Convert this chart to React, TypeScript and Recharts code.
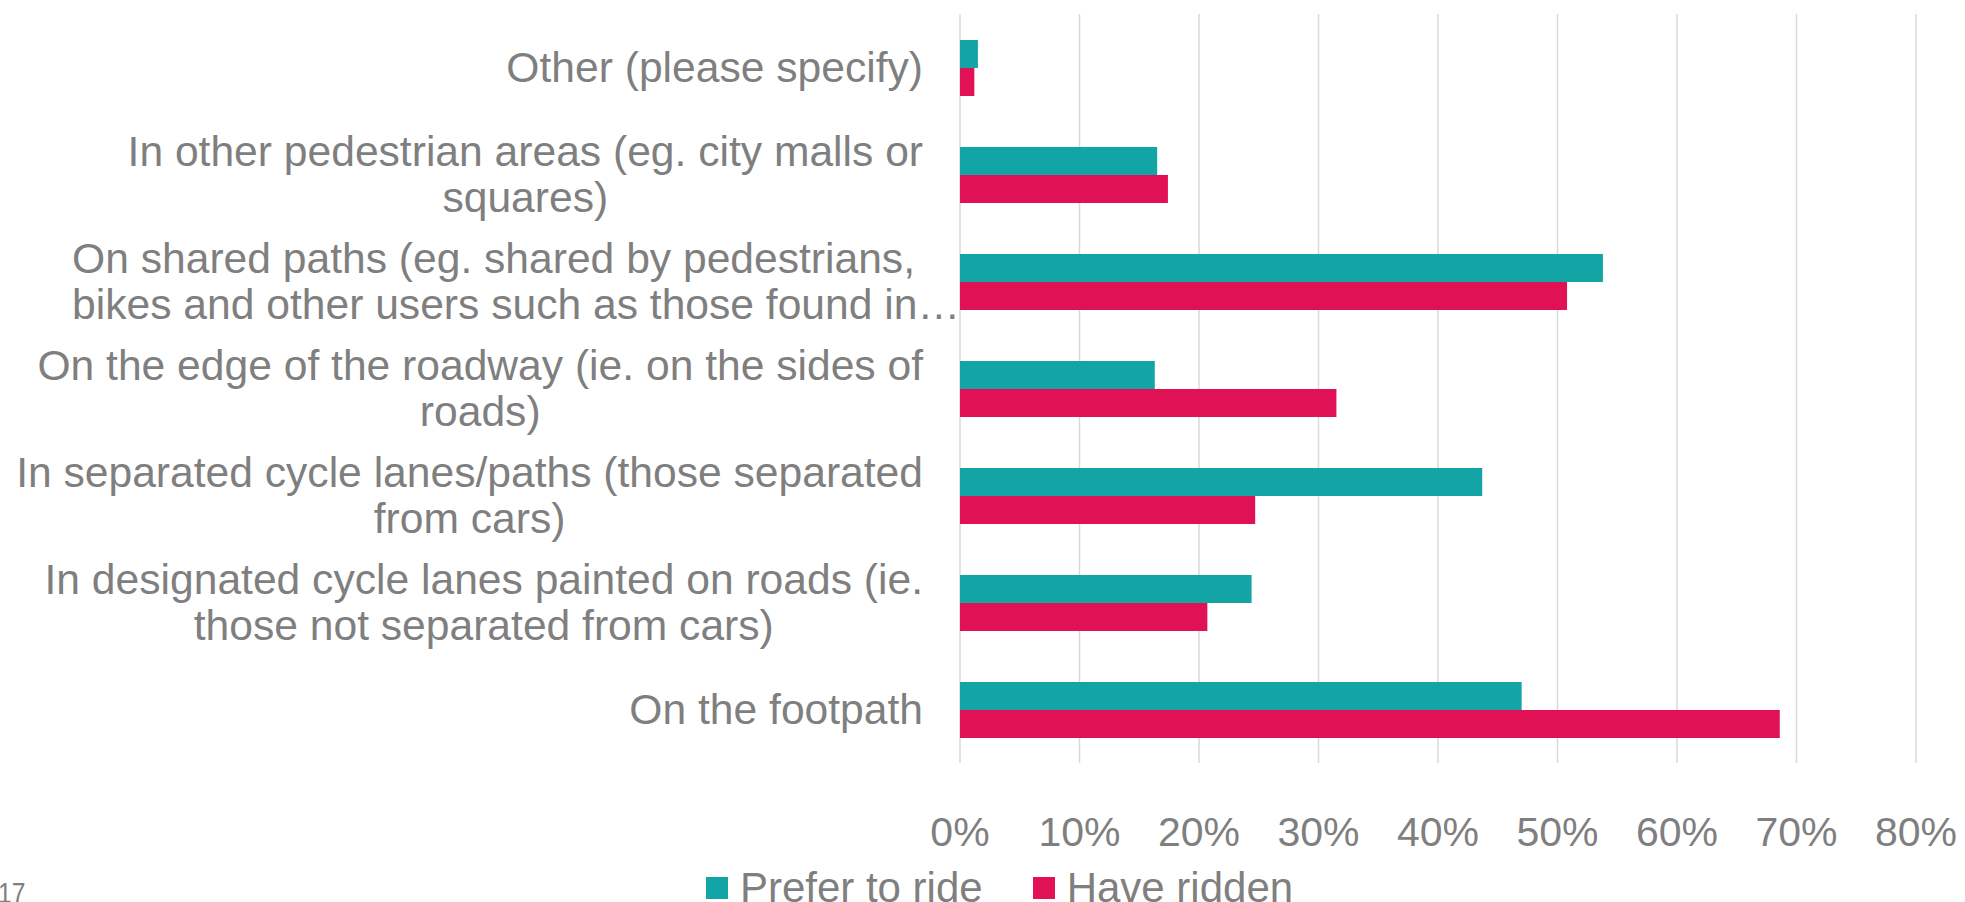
import { BarChart, Bar, XAxis, YAxis, CartesianGrid, Legend } from "recharts";

const categories = [
  "Other (please specify)",
  "In other pedestrian areas (eg. city malls or\nsquares)",
  "On shared paths (eg. shared by pedestrians,\nbikes and other users such as those found in…",
  "On the edge of the roadway (ie. on the sides of\nroads)",
  "In separated cycle lanes/paths (those separated\nfrom cars)",
  "In designated cycle lanes painted on roads (ie.\nthose not separated from cars)",
  "On the footpath",
];

const seriesNames = ["Prefer to ride", "Have ridden"];
const preferToRide = [1.5, 16.5, 53.8, 16.3, 43.7, 24.4, 47.0];
const haveRidden = [1.2, 17.4, 50.8, 31.5, 24.7, 20.7, 68.6];

const xTicks = [0, 10, 20, 30, 40, 50, 60, 70, 80];

const data = categories.map((name, i) => ({
  name,
  prefer: preferToRide[i],
  ridden: haveRidden[i],
}));

const FONT = "'Liberation Sans', Arial, sans-serif";
const GREY = "#7f7f7f";
const TEAL = "#13a4a5";
const PINK = "#e01155";
const LABEL_SIZE = 42.6;
const LINE_H = 46;
const TICK_GAP = 37;

let ctx: CanvasRenderingContext2D | null = null;
const textWidth = (t: string) => {
  if (!ctx) ctx = document.createElement("canvas").getContext("2d");
  if (!ctx) return t.length * LABEL_SIZE * 0.5;
  ctx.font = `${LABEL_SIZE}px ${FONT}`;
  return ctx.measureText(t).width;
};

// first line right-aligned, the rest centred under it;
// a clipped line ("…") runs up to the axis and the block starts at its left
const CategoryTick = ({ x, y, payload }: any) => {
  const lines: string[] = String(payload.value).split("\n");
  const y0 = y - ((lines.length - 1) * LINE_H) / 2;
  const clipped = lines.find((l) => l.endsWith("…"));
  const left = clipped ? x + TICK_GAP - textWidth(clipped) : 0;
  const cx = x - textWidth(lines[0]) / 2;
  return (
    <g>
      {lines.map((line, i) => (
        <text
          key={i}
          x={clipped ? left : cx}
          y={y0 + i * LINE_H}
          dy="0.35em"
          textAnchor={clipped ? "start" : "middle"}
          fill={GREY}
          fontSize={LABEL_SIZE}
          fontFamily={FONT}
        >
          {line}
        </text>
      ))}
    </g>
  );
};

const renderLegend = (props: any) => {
  const items = [...(props.payload || [])].sort(
    (a: any, b: any) => seriesNames.indexOf(a.value) - seriesNames.indexOf(b.value)
  );
  return (
    <div
      style={{
        display: "flex",
        justifyContent: "center",
        alignItems: "center",
        paddingLeft: 83,
        marginTop: 9,
        height: 46,
        fontFamily: FONT,
        fontSize: 42,
        color: GREY,
      }}
    >
      {items.map((item: any, i: number) => (
        <div
          key={item.value}
          style={{ display: "flex", alignItems: "center", marginRight: i === 0 ? 50 : 0 }}
        >
          <span
            style={{ width: 22, height: 22, background: item.color, marginRight: 12, display: "inline-block" }}
          />
          <span>{item.value}</span>
        </div>
      ))}
    </div>
  );
};

export default function App() {
  return (
    <div
      style={{
        position: "absolute",
        top: 0,
        left: 0,
        width: 1965,
        height: 902,
        background: "#fff",
        overflow: "hidden",
      }}
    >
      <BarChart
        width={1965}
        height={902}
        data={data}
        layout="vertical"
        margin={{ top: 14, right: 49, bottom: 0, left: 0 }}
        barGap={0}
        barSize={28}
      >
        <CartesianGrid horizontal={false} stroke="#d9d9d9" strokeWidth={1.5} />
        <XAxis
          type="number"
          domain={[0, 80]}
          ticks={xTicks}
          height={93}
          axisLine={false}
          tickLine={false}
          tickMargin={48}
          tickFormatter={(v) => `${v}%`}
          tick={{ fill: GREY, fontSize: 41, fontFamily: FONT }}
        />
        <YAxis
          type="category"
          dataKey="name"
          width={960}
          axisLine={false}
          tickLine={false}
          tickSize={0}
          tickMargin={TICK_GAP}
          interval={0}
          tick={<CategoryTick />}
        />
        <Legend verticalAlign="bottom" height={46} content={renderLegend} />
        <Bar dataKey="prefer" name={seriesNames[0]} fill={TEAL} isAnimationActive={false} />
        <Bar dataKey="ridden" name={seriesNames[1]} fill={PINK} isAnimationActive={false} />
      </BarChart>
      <div
        style={{
          position: "absolute",
          left: -2,
          top: 878,
          fontSize: 30,
          lineHeight: "30px",
          fontFamily: FONT,
          color: GREY,
          transform: "scaleX(0.82)",
          transformOrigin: "left top",
        }}
      >
        17
      </div>
    </div>
  );
}
